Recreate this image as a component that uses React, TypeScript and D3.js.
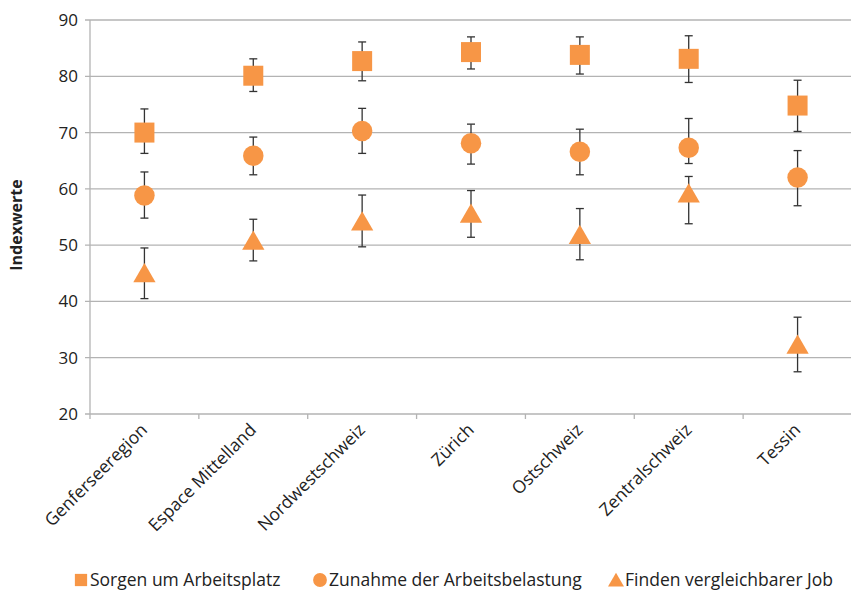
import React from "react";
import * as d3 from "d3";

const regions = ["Genferseeregion", "Espace Mittelland", "Nordwestschweiz", "Zürich", "Ostschweiz", "Zentralschweiz", "Tessin"];
const sorgen = [70.0, 80.1, 82.7, 84.3, 83.8, 83.1, 74.8];
const sorgenHi = [74.2, 83.1, 86.1, 87.0, 87.0, 87.2, 79.3];
const sorgenLo = [66.3, 77.3, 79.2, 81.3, 80.4, 78.9, 70.2];
const zunahme = [58.8, 65.9, 70.3, 68.1, 66.6, 67.3, 62.0];
const zunahmeHi = [63.0, 69.2, 74.3, 71.5, 70.6, 72.5, 66.8];
const zunahmeLo = [54.8, 62.5, 66.3, 64.4, 62.5, 64.5, 57.0];
const finden = [45.1, 50.9, 54.3, 55.7, 51.9, 59.3, 32.4];
const findenHi = [49.5, 54.6, 58.9, 59.7, 56.5, 62.2, 37.2];
const findenLo = [40.5, 47.2, 49.7, 51.4, 47.4, 53.8, 27.5];
const yTicks = [20, 30, 40, 50, 60, 70, 80, 90];
const seriesNames = ["Sorgen um Arbeitsplatz", "Zunahme der Arbeitsbelastung", "Finden vergleichbarer Job"];

const W = 851, H = 592;
const left = 90, right = 852, top = 20, bottom = 414;
const ORANGE = "#F79646";
const FONT = "'Open Sans', sans-serif";

export default function App() {
  const x = d3.scaleBand().domain(regions).range([left, right]);
  const y = d3.scaleLinear().domain([20, 90]).range([bottom, top]);
  const sq = d3.symbol().type(d3.symbolSquare).size(400)()!;
  const ci = d3.symbol().type(d3.symbolCircle).size(330)()!;
  const triSize = 215;
  const tri = d3.symbol().type(d3.symbolTriangle).size(triSize)()!;
  const triH = Math.sqrt(triSize * 4 / Math.sqrt(3)) * Math.sqrt(3) / 2;
  const triOff = triH / 6;
  const series = [
    { v: sorgen, hi: sorgenHi, lo: sorgenLo, path: sq, off: 0 },
    { v: zunahme, hi: zunahmeHi, lo: zunahmeLo, path: ci, off: 0 },
    { v: finden, hi: findenHi, lo: findenLo, path: tri, off: triOff },
  ];
  const cx = (r: string) => (x(r) as number) + x.bandwidth() / 2;
  const boundaries = regions.map((r) => x(r) as number).concat([right]);

  const legendItems = [
    { sym: d3.symbol().type(d3.symbolSquare).size(150)()!, sx: 81, tx: 90, off: 0 },
    { sym: d3.symbol().type(d3.symbolCircle).size(150)()!, sx: 320, tx: 329, off: 0 },
    { sym: d3.symbol().type(d3.symbolTriangle).size(110)()!, sx: 616, tx: 625, off: 2 },
  ];

  return (
    <svg width={W} height={H} style={{ position: "absolute", left: 0, top: 0, background: "#fff" }} fontFamily={FONT}>
      {yTicks.map((t) => (
        <g key={t}>
          <line x1={left - 5} x2={right} y1={y(t)} y2={y(t)} stroke="#B3B3B3" strokeWidth={1.3} />
          <text x={78} y={y(t)} dy="0.35em" textAnchor="end" fontSize={17} fill="#222">{t}</text>
        </g>
      ))}
      <line x1={left} x2={left} y1={top} y2={bottom} stroke="#B3B3B3" strokeWidth={1.3} />
      {boundaries.map((b, i) => (
        <line key={i} x1={b} x2={b} y1={bottom} y2={bottom + 5} stroke="#B3B3B3" strokeWidth={1.3} />
      ))}
      <text transform={`translate(22,${(top + bottom) / 2 + 8}) rotate(-90)`} textAnchor="middle" fontSize={16} fontWeight="bold" fill="#222">Indexwerte</text>
      {regions.map((r) => (
        <text key={r} transform={`translate(${cx(r) + 4},${bottom + 17}) rotate(-45)`} textAnchor="end" fontSize={17.5} fill="#222">{r}</text>
      ))}
      {series.map((s, si) => (
        <g key={si}>
          {regions.map((r, i) => (
            <g key={r} stroke="#333" strokeWidth={1.3}>
              <line x1={cx(r)} x2={cx(r)} y1={y(s.hi[i])} y2={y(s.lo[i])} />
              <line x1={cx(r) - 4} x2={cx(r) + 4} y1={y(s.hi[i])} y2={y(s.hi[i])} />
              <line x1={cx(r) - 4} x2={cx(r) + 4} y1={y(s.lo[i])} y2={y(s.lo[i])} />
            </g>
          ))}
        </g>
      ))}
      {series.map((s, si) => (
        <g key={si}>
          {regions.map((r, i) => (
            <path key={r} d={s.path} transform={`translate(${cx(r)},${y(s.v[i]) + s.off})`} fill={ORANGE} />
          ))}
        </g>
      ))}
      {legendItems.map((l, i) => (
        <g key={i}>
          <path d={l.sym} transform={`translate(${l.sx},${580 + l.off})`} fill={ORANGE} />
          <text x={l.tx} y={580} dy="0.35em" fontSize={17.5} fill="#222">{seriesNames[i]}</text>
        </g>
      ))}
    </svg>
  );
}
